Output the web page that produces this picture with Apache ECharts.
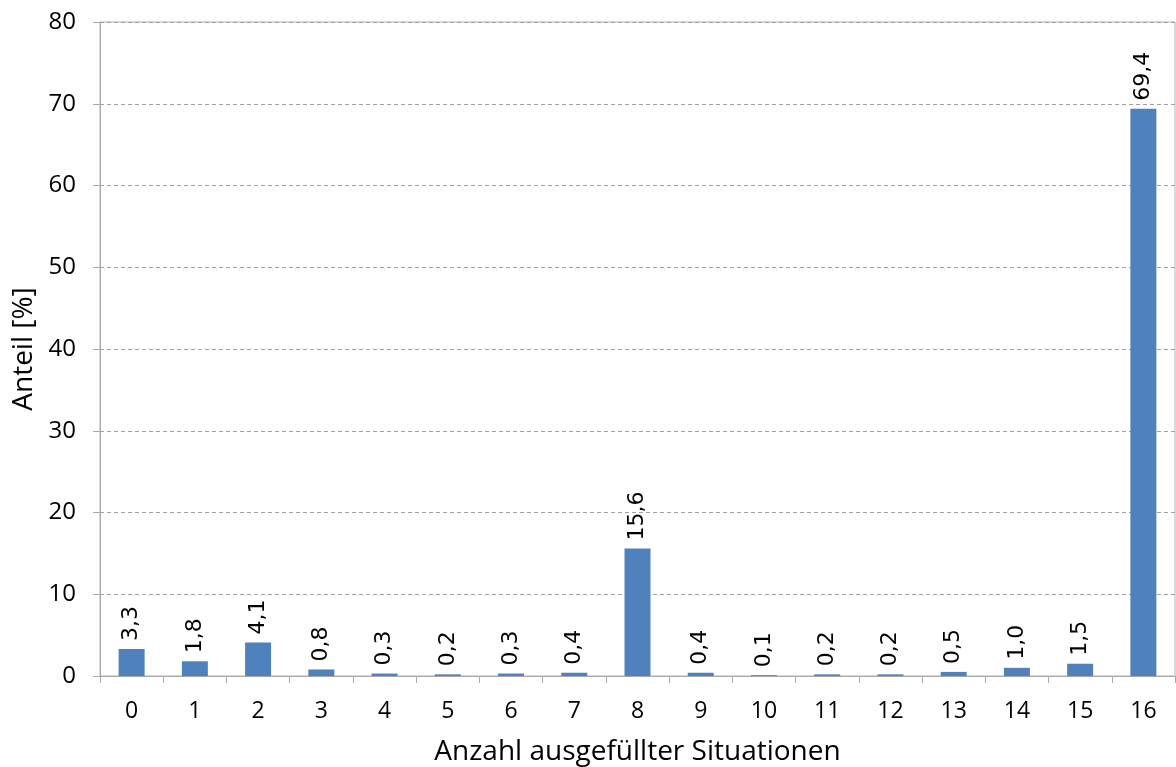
<!DOCTYPE html>
<html>
<head>
<meta charset="utf-8">
<script src="https://cdn.jsdelivr.net/npm/echarts@6/dist/echarts.min.js"></script>
<style>
  html, body { margin: 0; padding: 0; background: #fff; }
  #chart { width: 1176px; height: 767px; }
</style>
</head>
<body>
<div id="chart"></div>
<script>
// Kategorien und Werte
const categories = ['0', '1', '2', '3', '4', '5', '6', '7', '8', '9', '10', '11', '12', '13', '14', '15', '16']
const anteil = [3.3, 1.8, 4.1, 0.8, 0.3, 0.2, 0.3, 0.4, 15.6, 0.4, 0.1, 0.2, 0.2, 0.5, 1.0, 1.5, 69.4]
const yTicks = [0, 10, 20, 30, 40, 50, 60, 70, 80]

const chart = echarts.init(document.getElementById('chart'))

const axisFont = '"Open Sans", "Noto Sans", sans-serif'

chart.setOption({
  animation: false,
  grid: {
    left: 100,
    right: 1,
    top: 22,
    bottom: 91,
    outerBoundsMode: 'none',
    containLabel: false,
    show: true,
    borderColor: '#b4b4b4',
    borderWidth: 1
  },
  xAxis: {
    type: 'category',
    data: categories,
    name: 'Anzahl ausgefüllter Situationen',
    nameLocation: 'middle',
    nameGap: 62,
    nameTextStyle: { fontSize: 28, color: '#000', fontFamily: axisFont },
    axisLine: { lineStyle: { color: '#a8a8a8' } },
    axisTick: { show: true, length: 7, lineStyle: { color: '#a8a8a8' } },
    axisLabel: { fontSize: 23, color: '#000', margin: 24, fontFamily: axisFont }
  },
  yAxis: {
    type: 'value',
    min: yTicks[0],
    max: yTicks[yTicks.length - 1],
    interval: 10,
    name: 'Anteil [%]',
    nameLocation: 'middle',
    nameGap: 60,
    nameTextStyle: { fontSize: 28, color: '#000', fontFamily: axisFont },
    axisLine: { show: true, lineStyle: { color: '#a8a8a8' } },
    axisTick: { show: true, length: 7, lineStyle: { color: '#a8a8a8' } },
    axisLabel: { fontSize: 24, color: '#000', margin: 24, fontFamily: axisFont },
    splitLine: { lineStyle: { color: '#a0a0a0', type: [4, 3] } }
  },
  series: [
    {
      type: 'bar',
      data: anteil,
      barWidth: 26,
      itemStyle: { color: '#4f81bd' },
      label: {
        show: true,
        position: 'top',
        rotate: 90,
        align: 'left',
        verticalAlign: 'middle',
        distance: 8,
        fontSize: 22,
        color: '#000',
        fontFamily: '"DejaVu Sans", sans-serif',
        formatter: p => p.value.toFixed(1).replace('.', ',')
      }
    }
  ]
})
</script>
</body>
</html>
